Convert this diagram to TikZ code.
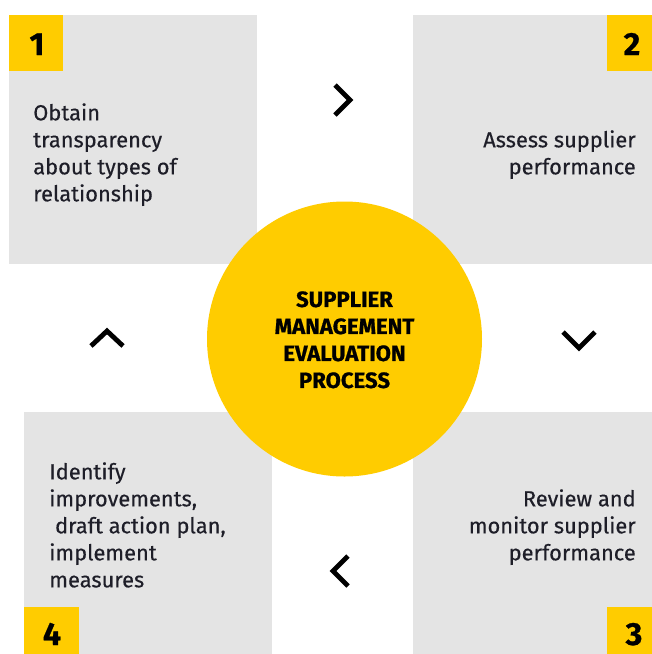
\documentclass[tikz,border=0pt]{standalone}
\usepackage{fontspec}
\setmainfont{Fira Sans}[UprightFeatures={FakeBold=0.35}]
\newfontfamily\heavyfont{Fira Sans Bold}[FakeBold=0.8]
\definecolor{ylw}{HTML}{FFCC00}
\definecolor{gry}{HTML}{E4E4E4}
\definecolor{ink}{HTML}{1E1E28}
\begin{document}
\begin{tikzpicture}[x=0.75pt,y=-0.75pt,
  panel/.style={fill=gry,draw=none,inner sep=0pt,rectangle},
  numbox/.style={fill=ylw,draw=none,inner sep=0pt,rectangle},
  numtxt/.style={inner sep=0pt,anchor=base,font=\fontsize{24}{24}\selectfont\heavyfont,text=black},
  body/.style={inner sep=0pt,font=\fontsize{16.4}{20.25}\selectfont,text=ink},
  chev/.style={draw=black,line width=3.6pt,line cap=butt,line join=miter}]
\useasboundingbox (0,0) rectangle (652,654);
\fill[white] (0,0) rectangle (652,654);
% panels
\node[panel,minimum width=186pt,minimum height=186.75pt] (p1) at (133,139.5) {};
\node[panel,minimum width=179.25pt,minimum height=186.75pt] (p2) at (532.5,139.5) {};
\node[panel,minimum width=179.25pt,minimum height=181.5pt] (p3) at (532.5,533) {};
\node[panel,minimum width=186pt,minimum height=181.5pt] (p4) at (148,533) {};
% number squares
\node[numbox,minimum width=40.5pt,minimum height=42pt] (n1) at (36,43) {};
\node[numbox,minimum width=33.75pt,minimum height=42pt] (n2) at (629.5,43) {};
\node[numbox,minimum width=33.75pt,minimum height=35.25pt] (n3) at (629.5,630.5) {};
\node[numbox,minimum width=41.25pt,minimum height=35.25pt] (n4) at (51.5,630.5) {};
\node[numtxt] (d1) at (37,55) {1};
\node[numtxt] (d2) at (632,55) {2};
\node[numtxt] (d3) at (634,645) {3};
\node[numtxt] (d4) at (52,645) {4};
% circle
\node[circle,fill=ylw,draw=none,minimum size=206.25pt,inner sep=0pt] (c) at (344.5,339) {};
\node[inner sep=0pt,align=center,font=\fontsize{16.6}{20.25}\selectfont\heavyfont,text=black,anchor=north] (ct) at (344.5,291)
  {SUPPLIER\\MANAGEMENT\\EVALUATION\\PROCESS};
% texts
\node[body,align=left,anchor=north west] (t1) at (33,103)
  {Obtain\\transparency\\about types of\\relationship};
\node[body,align=right,anchor=north east] (t2) at (636,130)
  {Assess supplier\\performance};
\node[body,align=right,anchor=north east] (t3) at (636,489)
  {Review and\\monitor supplier\\performance};
\node[body,align=left,anchor=north west] (t4) at (49,462)
  {Identify\\improvements,\\\ draft action plan,\\implement\\measures};
% chevrons
\coordinate (r1) at (335,85); \coordinate (r2) at (350,100); \coordinate (r3) at (335,115);
\draw[chev] (r1) -- (r2) -- (r3);
\coordinate (v1) at (563,332); \coordinate (v2) at (579,348); \coordinate (v3) at (595,332);
\draw[chev] (v1) -- (v2) -- (v3);
\coordinate (l1) at (348,556); \coordinate (l2) at (333,571); \coordinate (l3) at (348,586);
\draw[chev] (l1) -- (l2) -- (l3);
\coordinate (u1) at (91,346); \coordinate (u2) at (107,331); \coordinate (u3) at (123,346);
\draw[chev] (u1) -- (u2) -- (u3);
\end{tikzpicture}
\end{document}
